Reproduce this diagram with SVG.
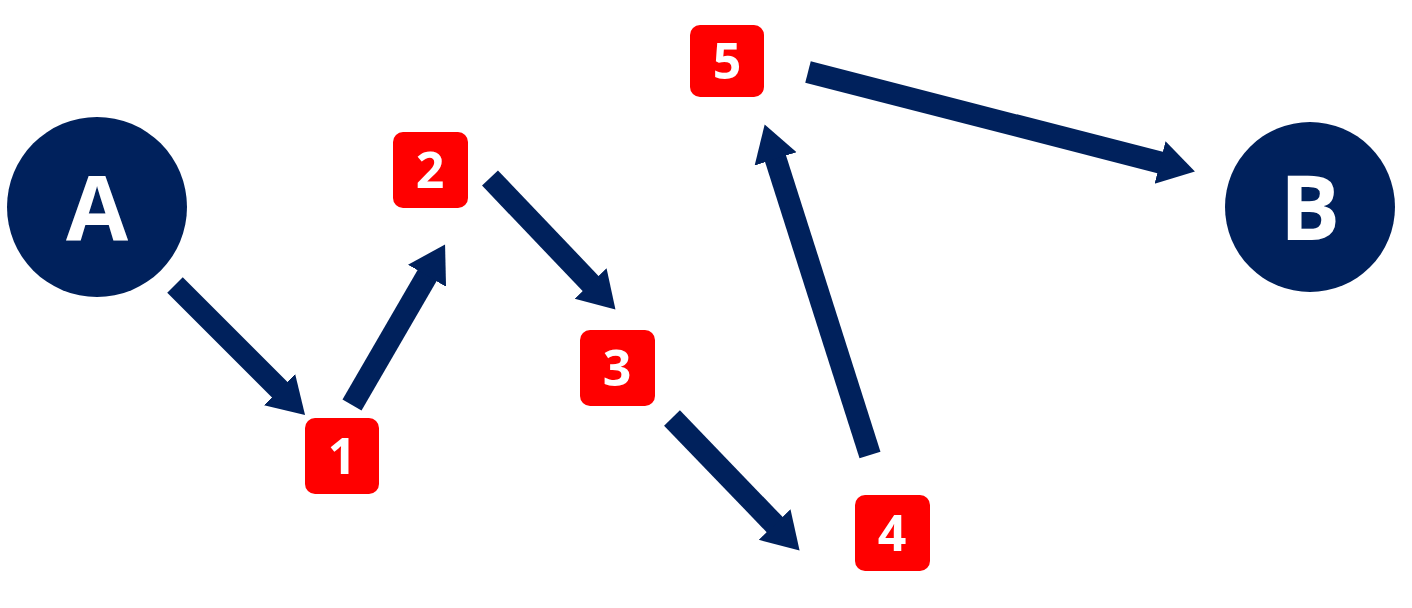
<svg xmlns="http://www.w3.org/2000/svg" width="1412" height="608" viewBox="0 0 1412 608">
<style>
.c{fill:#00215c}
.b{fill:#ff0000}
.t{fill:#fff;font-family:"Open Sans","Liberation Sans",sans-serif;font-weight:bold;text-anchor:middle}
.a{stroke:#00215c;stroke-width:22;fill:none;marker-end:url(#h)}
</style>
<defs>
<marker id="h" markerUnits="userSpaceOnUse" markerWidth="40" markerHeight="46" refX="2" refY="22" orient="auto" viewBox="0 0 40 46">
<path d="M0,0 L36,22 L0,44 z" fill="#00215c"/>
</marker>
</defs>
<rect width="1412" height="608" fill="#fff"/>
<g id="A"><circle class="c" cx="97" cy="207" r="90"/><text class="t" x="97" y="240" font-size="90">A</text></g>
<g id="B"><circle class="c" cx="1310" cy="207" r="85"/><text class="t" x="1310" y="240" font-size="90">B</text></g>
<g id="n1"><rect class="b" x="305" y="418" width="74" height="76" rx="10"/><text class="t" x="342" y="474" font-size="50">1</text></g>
<g id="n2"><rect class="b" x="393" y="132" width="75" height="76" rx="10"/><text class="t" x="430" y="188" font-size="50">2</text></g>
<g id="n3"><rect class="b" x="580" y="330" width="75" height="76" rx="10"/><text class="t" x="617" y="386" font-size="50">3</text></g>
<g id="n4"><rect class="b" x="855" y="495" width="75" height="76" rx="10"/><text class="t" x="892" y="551" font-size="50">4</text></g>
<g id="n5"><rect class="b" x="690" y="25" width="74" height="72" rx="10"/><text class="t" x="727" y="79" font-size="50">5</text></g>
<g id="connectors">
<line class="a" x1="175" y1="285" x2="281" y2="391"/>
<line class="a" x1="352" y1="405" x2="428" y2="274"/>
<line class="a" x1="490" y1="178" x2="592" y2="285"/>
<line class="a" x1="672" y1="418" x2="776" y2="526"/>
<line class="a" x1="870" y1="455" x2="775" y2="157"/>
<line class="a" x1="808" y1="72" x2="1162" y2="163"/>
</g>
</svg>
